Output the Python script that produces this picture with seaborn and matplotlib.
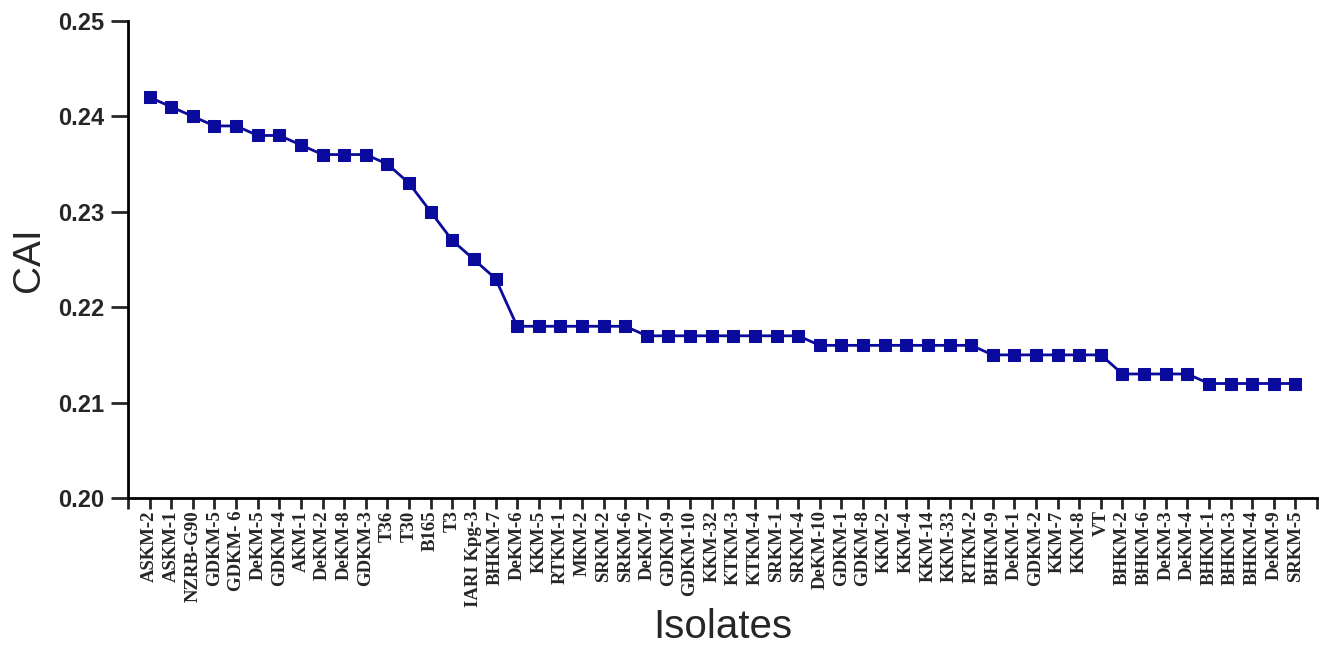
import numpy as np
import pandas as pd
import matplotlib
matplotlib.use("Agg")
import matplotlib.pyplot as plt
import seaborn as sns

# isolate names, in plotted order
isolates = [
    "ASKM-2", "ASKM-1", "NZRB-G90", "GDKM-5", "GDKM- 6", "DeKM-5", "GDKM-4", "AKM-1",
    "DeKM-2", "DeKM-8", "GDKM-3", "T36", "T30", "B165", "T3", "IARI Kpg-3", "BHKM-7",
    "DeKM-6", "KKM-5", "RTKM-1", "MKM-2", "SRKM-2", "SRKM-6", "DeKM-7", "GDKM-9",
    "GDKM-10", "KKM-32", "KTKM-3", "KTKM-4", "SRKM-1", "SRKM-4", "DeKM-10", "GDKM-1",
    "GDKM-8", "KKM-2", "KKM-4", "KKM-14", "KKM-33", "RTKM-2", "BHKM-9", "DeKM-1",
    "GDKM-2", "KKM-7", "KKM-8", "VT", "BHKM-2", "BHKM-6", "DeKM-3", "DeKM-4",
    "BHKM-1", "BHKM-3", "BHKM-4", "DeKM-9", "SRKM-5",
]

# codon adaptation index per isolate
cai = [
    0.242, 0.241, 0.240, 0.239, 0.239, 0.238, 0.238, 0.237,
    0.236, 0.236, 0.236, 0.235, 0.233, 0.230, 0.227, 0.225, 0.223,
    0.218, 0.218, 0.218, 0.218, 0.218, 0.218, 0.217, 0.217,
    0.217, 0.217, 0.217, 0.217, 0.217, 0.217, 0.216, 0.216,
    0.216, 0.216, 0.216, 0.216, 0.216, 0.216, 0.215, 0.215,
    0.215, 0.215, 0.215, 0.215, 0.213, 0.213, 0.213, 0.213,
    0.212, 0.212, 0.212, 0.212, 0.212,
]

y_ticks = [0.20, 0.21, 0.22, 0.23, 0.24, 0.25]

df = pd.DataFrame({"pos": np.arange(len(isolates)), "Isolate": isolates, "CAI": cai})

sns.set_style("ticks")
fig = plt.figure(figsize=(13.25, 6.48), dpi=100)
ax = fig.add_axes([0.0966, 0.2315, 0.8974, 0.7361])

sns.lineplot(
    data=df, x="pos", y="CAI", ax=ax, sort=False,
    color="#0a0a9c", linewidth=2, marker="s", markersize=8,
    markeredgecolor="#0a0a9c",
)

# ticks at every isolate plus blank ones at the axis ends
ax.set_xlim(-1, len(isolates))
tick_pos = np.arange(-1, len(isolates) + 1)
ax.set_xticks(tick_pos)
ax.set_xticklabels([""] + isolates + [""], rotation=90,
                   fontfamily="Liberation Serif", fontweight="bold", fontsize=13.5)

ax.set_ylim(0.20, 0.25)
ax.set_yticks(y_ticks)
ax.set_yticklabels([f"{t:.2f}" for t in y_ticks],
                   fontfamily="Liberation Sans", fontweight="bold", fontsize=17)

ax.tick_params(axis="x", direction="out", length=8, width=2, pad=1)
ax.tick_params(axis="y", direction="out", length=12, width=2, pad=5)

for side in ["left", "bottom"]:
    ax.spines[side].set_linewidth(2)
    ax.spines[side].set_color("black")
sns.despine(ax=ax)

ax.set_xlabel("Isolates", fontfamily="Liberation Sans", fontsize=29)
ax.xaxis.set_label_coords(0.5, -0.27)
ax.xaxis.label.set_va("center")
ax.set_ylabel("CAI", fontfamily="Liberation Sans", fontsize=28)
ax.yaxis.set_label_coords(-0.083, 0.50)
ax.yaxis.label.set_va("center")

fig.savefig("out.png", dpi=100)
